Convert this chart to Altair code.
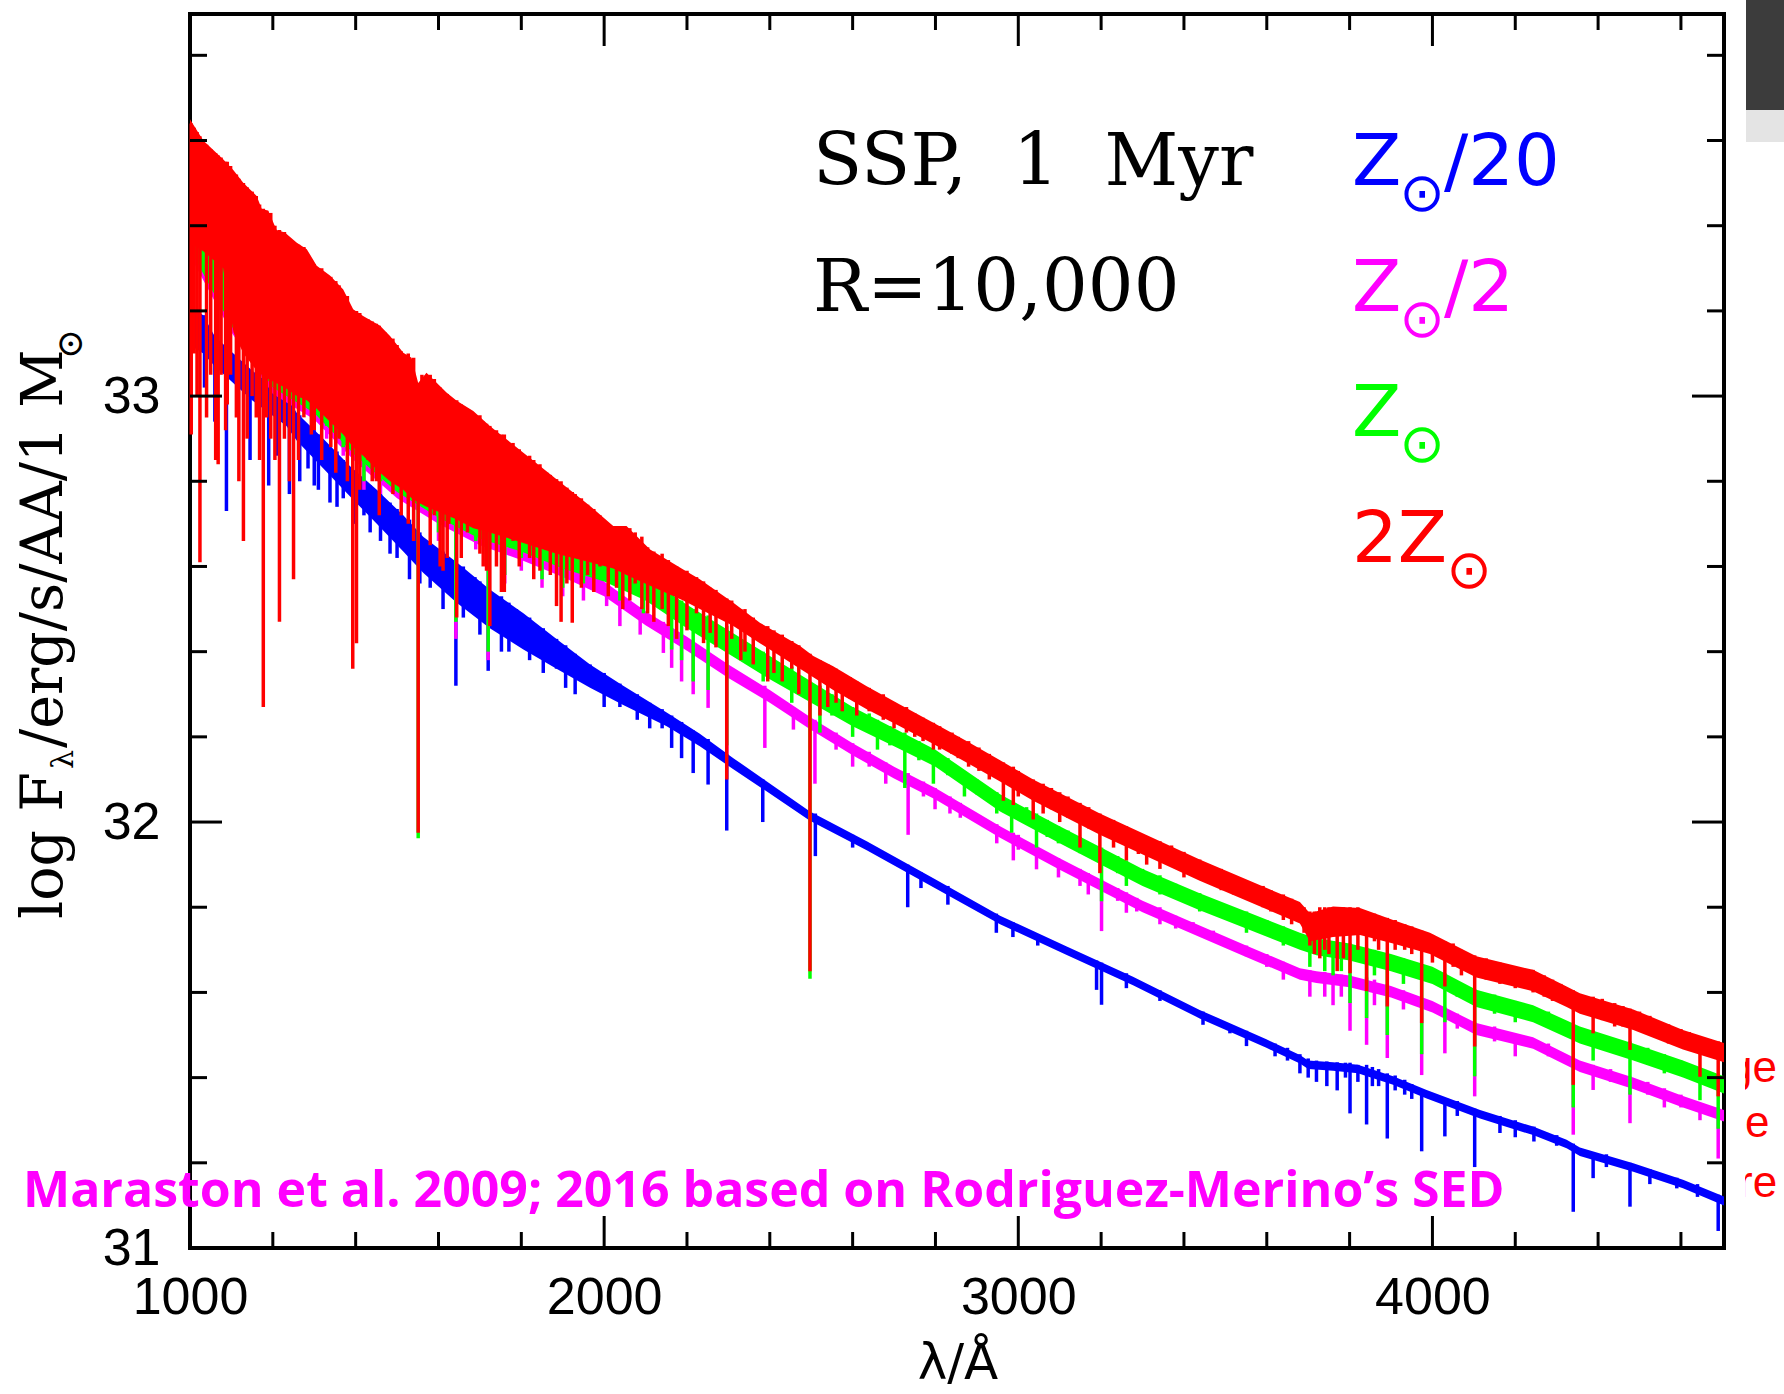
import altair as alt
import pandas as pd

# ---------------- spectra: band envelopes (wavelength, upper, lower) ----------------
red_w = [1000, 1032, 1080, 1105, 1129, 1161, 1173, 1189, 1209, 1229, 1258, 1282, 1306, 1338, 1370,
         1394, 1418, 1459, 1483, 1515, 1535, 1551, 1571, 1620, 1644, 1684, 1724, 1805, 1885, 1966,
         2022, 2054, 2111, 2191, 2231, 2312, 2376, 2473, 2505, 2553, 2634, 2714, 2795, 2875, 2956,
         3036, 3197, 3438, 3680, 3704, 3760, 3825, 3905, 3994, 4106, 4243, 4324, 4356, 4485, 4605, 4704]
red_top = [33.65, 33.60, 33.556, 33.53, 33.50, 33.47, 33.44, 33.435, 33.39, 33.384, 33.36, 33.345, 33.306, 33.283, 33.25,
           33.204, 33.188, 33.165, 33.141, 33.102, 33.09, 33.031, 33.055, 33.008, 32.989, 32.965, 32.93, 32.867, 32.805, 32.742,
           32.695, 32.695, 32.64, 32.593, 32.57, 32.515, 32.468, 32.413, 32.39, 32.366, 32.319, 32.276, 32.233, 32.19, 32.145,
           32.10, 32.02, 31.912, 31.812, 31.786, 31.802, 31.798, 31.77, 31.74, 31.685, 31.653, 31.614, 31.598, 31.56, 31.512, 31.481]
red_bot = [33.36, 33.34, 33.30, 33.15, 33.10, 33.06, 33.05, 33.04, 33.03, 33.02, 33.00, 32.99, 32.97, 32.94, 32.91,
           32.88, 32.86, 32.82, 32.80, 32.78, 32.76, 32.75, 32.74, 32.72, 32.71, 32.69, 32.68, 32.655, 32.63, 32.61,
           32.595, 32.58, 32.555, 32.52, 32.50, 32.46, 32.42, 32.36, 32.34, 32.31, 32.265, 32.225, 32.183, 32.14, 32.095,
           32.05, 31.97, 31.862, 31.762, 31.72, 31.73, 31.735, 31.715, 31.69, 31.635, 31.603, 31.566, 31.55, 31.512, 31.466, 31.436]

green_w = [1000, 1100, 1200, 1300, 1400, 1500, 1600, 1700, 1800, 1900, 2000, 2100, 2200, 2300, 2400, 2500, 2600, 2700,
           2800, 2956, 3100, 3200, 3300, 3438, 3550, 3680, 3720, 3800, 3900, 4000, 4106, 4243, 4356, 4485, 4605, 4704]
green_top = [33.55, 33.45, 33.32, 33.22, 33.12, 33.04, 32.94, 32.86, 32.79, 32.72, 32.64, 32.575, 32.51, 32.45, 32.39, 32.33, 32.27, 32.22,
             32.17, 32.065, 31.99, 31.94, 31.89, 31.833, 31.79, 31.74, 31.727, 31.715, 31.69, 31.66, 31.606, 31.57, 31.52, 31.48, 31.44, 31.403]
green_bot = [33.345, 33.165, 33.02, 32.96, 32.86, 32.775, 32.715, 32.665, 32.635, 32.595, 32.565, 32.52, 32.455, 32.395, 32.335, 32.28, 32.225, 32.178,
             32.13, 32.025, 31.95, 31.90, 31.85, 31.793, 31.75, 31.70, 31.687, 31.675, 31.65, 31.62, 31.566, 31.53, 31.48, 31.44, 31.40, 31.363]

magenta_w = green_w
magenta_top = [33.49, 33.38, 33.25, 33.15, 33.05, 32.97, 32.87, 32.79, 32.715, 32.64, 32.565, 32.495, 32.435, 32.37, 32.31, 32.245, 32.185, 32.13,
               32.08, 31.99, 31.915, 31.865, 31.815, 31.757, 31.71, 31.657, 31.65, 31.64, 31.615, 31.58, 31.528, 31.495, 31.44, 31.40, 31.357, 31.324]
magenta_bot = [33.33, 33.15, 33.005, 32.945, 32.845, 32.76, 32.70, 32.65, 32.615, 32.575, 32.53, 32.462, 32.402, 32.338, 32.28, 32.216, 32.157, 32.102,
               32.053, 31.963, 31.888, 31.838, 31.788, 31.73, 31.683, 31.63, 31.622, 31.612, 31.588, 31.553, 31.50, 31.468, 31.413, 31.373, 31.33, 31.297]

blue_w = [1000, 1032, 1060, 1105, 1150, 1233, 1258, 1322, 1386, 1451, 1515, 1563, 1644, 1724, 1805, 1885, 1966, 2046,
          2151, 2231, 2312, 2392, 2497, 2634, 2795, 2956, 3117, 3277, 3438, 3599, 3680, 3700, 3760, 3820, 3905, 3986,
          4115, 4243, 4324, 4356, 4485, 4605, 4704]
blue_top = [33.21, 33.19, 33.14, 33.10, 33.06, 33.00, 32.96, 32.90, 32.836, 32.78, 32.72, 32.67, 32.61, 32.546, 32.49, 32.43, 32.37, 32.32,
            32.257, 32.207, 32.15, 32.096, 32.025, 31.955, 31.868, 31.78, 31.708, 31.637, 31.559, 31.49, 31.453, 31.44, 31.436, 31.43, 31.403, 31.371,
            31.324, 31.285, 31.254, 31.236, 31.199, 31.16, 31.121]
blue_bot = [33.12, 33.10, 33.07, 33.03, 32.99, 32.93, 32.895, 32.83, 32.765, 32.70, 32.635, 32.585, 32.515, 32.455, 32.405, 32.36, 32.315, 32.275,
            32.225, 32.178, 32.124, 32.072, 32.003, 31.934, 31.847, 31.76, 31.688, 31.617, 31.539, 31.47, 31.433, 31.42, 31.416, 31.41, 31.383, 31.351,
            31.304, 31.265, 31.234, 31.216, 31.179, 31.14, 31.10]

# ---------------- absorption lines (wavelength, upper, lower) ----------------
red_line_w = [1003, 1010, 1017, 1024, 1040, 1050, 1062, 1068, 1075, 1086, 1090, 1098, 1112, 1118, 1129, 1138, 1150, 1160,
              1168, 1177, 1185, 1195, 1205, 1216, 1228, 1240, 1250, 1262, 1275, 1293, 1300, 1318, 1335, 1340, 1352, 1360,
              1380, 1393, 1402, 1410, 1430, 1440, 1450, 1457, 1470, 1490, 1500, 1510, 1527, 1540, 1551, 1560, 1580, 1590,
              1604, 1611, 1621, 1625, 1644, 1655, 1670, 1700, 1708, 1716, 1724, 1740, 1752, 1759, 1780, 1795, 1820, 1830,
              1845, 1862, 1870, 1885, 1896, 1910, 1923, 1930, 1945, 1960, 1975, 1990, 2010, 2030, 2045, 2062,
              2075, 2091, 2105, 2120, 2140, 2155, 2175, 2200, 2223, 2240, 2256, 2270, 2296, 2308, 2330, 2340, 2360, 2395,
              2410, 2430, 2453, 2470, 2497, 2521, 2540, 2560, 2575, 2594, 2610, 2640, 2674, 2700, 2730, 2750, 2770, 2795,
              2810, 2840, 2855, 2880, 2905, 2930, 2964, 2988, 3000, 3036, 3060, 3080, 3100, 3120, 3149, 3170, 3197, 3230,
              3261, 3290, 3310, 3342, 3370, 3400, 3438, 3460, 3490, 3520, 3551, 3591, 3610, 3640, 3660, 3690, 3704, 3715,
              3728, 3740, 3750, 3770, 3785, 3801, 3820, 3841, 3860, 3870, 3891, 3910, 3933, 3950, 3974, 4000, 4030, 4050,
              4070, 4102, 4130, 4163, 4180, 4200, 4243, 4270, 4290, 4310, 4340, 4388, 4410, 4440, 4460, 4477, 4500, 4525,
              4570, 4600, 4620, 4646, 4670, 4690]
red_line_top = [33.64, 33.63, 33.62, 33.61, 33.59, 33.58, 33.57, 33.565, 33.56, 33.55, 33.55, 33.54, 33.52, 33.51, 33.50, 33.49, 33.48, 33.47,
                33.45, 33.44, 33.435, 33.43, 33.40, 33.39, 33.385, 33.37, 33.36, 33.355, 33.35, 33.32, 33.31, 33.30, 33.28, 33.28, 33.27, 33.26,
                33.235, 33.20, 33.20, 33.195, 33.18, 33.175, 33.17, 33.165, 33.15, 33.135, 33.12, 33.105, 33.10, 33.09, 33.03, 33.05, 33.05, 33.04,
                33.02, 33.01, 33.005, 33.00, 32.99, 32.98, 32.97, 32.955, 32.94, 32.935, 32.93, 32.92, 32.91, 32.91, 32.89, 32.875, 32.86, 32.85,
                32.84, 32.82, 32.815, 32.805, 32.80, 32.785, 32.775, 32.77, 32.76, 32.745, 32.735, 32.72, 32.70, 32.69, 32.695, 32.69,
                32.68, 32.67, 32.645, 32.635, 32.63, 32.615, 32.60, 32.59, 32.575, 32.565, 32.55, 32.545, 32.525, 32.52, 32.50, 32.50, 32.48, 32.46,
                32.45, 32.44, 32.425, 32.415, 32.395, 32.38, 32.37, 32.36, 32.35, 32.34, 32.33, 32.315, 32.30, 32.28, 32.27, 32.255, 32.245, 32.233,
                32.225, 32.21, 32.20, 32.19, 32.175, 32.16, 32.14, 32.13, 32.12, 32.10, 32.09, 32.08, 32.07, 32.06, 32.045, 32.035, 32.02, 32.005,
                31.99, 31.975, 31.965, 31.955, 31.945, 31.93, 31.912, 31.90, 31.89, 31.875, 31.86, 31.85, 31.84, 31.83, 31.82, 31.80, 31.79, 31.79,
                31.80, 31.80, 31.80, 31.80, 31.80, 31.80, 31.80, 31.79, 31.785, 31.78, 31.775, 31.77, 31.76, 31.755, 31.745, 31.735, 31.72, 31.715,
                31.70, 31.687, 31.68, 31.67, 31.665, 31.66, 31.653, 31.64, 31.63, 31.62, 31.605, 31.59, 31.585, 31.575, 31.568, 31.562, 31.555, 31.545,
                31.525, 31.514, 31.507, 31.497, 31.49, 31.485]
red_line_bot = [32.91, 33.10, 33.00, 32.61, 32.95, 33.05, 32.85, 32.84, 33.05, 32.92, 32.98, 33.05, 32.95, 32.80, 32.66, 32.90, 33.00, 32.95,
                32.85, 32.27, 32.95, 32.90, 32.85, 32.47, 32.90, 32.80, 32.57, 32.85, 32.95, 32.91, 32.92, 32.85, 32.98, 32.88, 32.82, 32.90,
                32.80, 32.36, 32.42, 32.78, 32.85, 32.80, 32.80, 32.72, 32.88, 32.77, 32.80, 32.72, 32.70, 32.66, 31.975, 32.80, 32.65, 32.72,
                32.60, 32.59, 32.62, 32.70, 32.48, 32.62, 32.68, 32.63, 32.60, 32.59, 32.46, 32.60, 32.54, 32.54, 32.66, 32.60, 32.62, 32.57,
                32.59, 32.64, 32.58, 32.507, 32.47, 32.56, 32.468, 32.62, 32.55, 32.58, 32.54, 32.60, 32.53, 32.55, 32.50, 32.52,
                32.56, 32.50, 32.49, 32.47, 32.50, 32.46, 32.43, 32.45, 32.49, 32.42, 32.444, 32.41, 32.10, 32.43, 32.38, 32.40, 32.37, 32.33,
                32.35, 32.33, 32.36, 32.30, 31.65, 32.25, 32.27, 32.28, 32.26, 32.29, 32.25, 32.26, 32.24, 32.22, 32.21, 32.20, 32.19, 32.17,
                32.17, 32.16, 32.15, 32.13, 32.12, 32.10, 32.05, 32.04, 32.06, 32.006, 32.02, 32.03, 32.00, 32.01, 31.94, 31.985, 31.88, 31.94,
                31.91, 31.925, 31.90, 31.89, 31.90, 31.87, 31.865, 31.855, 31.84, 31.83, 31.83, 31.80, 31.79, 31.77, 31.76, 31.74, 31.71, 31.69,
                31.68, 31.70, 31.69, 31.65, 31.68, 31.645, 31.70, 31.603, 31.72, 31.70, 31.567, 31.70, 31.70, 31.69, 31.528, 31.67, 31.614, 31.66,
                31.64, 31.473, 31.63, 31.62, 31.62, 31.61, 31.60, 31.59, 31.58, 31.575, 31.383, 31.504, 31.535, 31.52, 31.52, 31.465, 31.51, 31.50,
                31.48, 31.47, 31.465, 31.402, 31.45, 31.356]

green_line_w = [1050, 1100, 1225, 1270, 1330, 1370, 1420, 1460, 1551, 1600, 1642, 1690, 1720, 1760, 1800, 1850, 1900, 1950,
                2006, 2038, 2095, 2163, 2187, 2215, 2251, 2296, 2384, 2453, 2497, 2521, 2550, 2600, 2640, 2660, 2690, 2726,
                2760, 2795, 2830, 2870, 2900, 2948, 2984, 3020, 3044, 3070, 3097, 3120, 3149, 3201, 3240, 3261, 3300, 3342,
                3380, 3438, 3490, 3551, 3600, 3640, 3704, 3740, 3760, 3780, 3801, 3841, 3860, 3891, 3930, 3974, 4030, 4060,
                4102, 4150, 4200, 4280, 4340, 4388, 4430, 4477, 4520, 4560, 4600, 4646, 4690]
green_line_top = [33.50, 33.44, 33.30, 33.25, 33.18, 33.14, 33.10, 33.07, 33.00, 32.94, 32.90, 32.87, 32.85, 32.82, 32.79, 32.75, 32.72, 32.68,
                  32.63, 32.61, 32.575, 32.53, 32.52, 32.50, 32.485, 32.46, 32.40, 32.365, 32.33, 32.32, 32.30, 32.27, 32.255, 32.24, 32.225, 32.21,
                  32.19, 32.17, 32.15, 32.12, 32.10, 32.07, 32.05, 32.035, 32.02, 32.005, 31.99, 31.98, 31.965, 31.94, 31.92, 31.91, 31.89, 31.875,
                  31.855, 31.833, 31.81, 31.79, 31.77, 31.755, 31.73, 31.72, 31.72, 31.715, 31.715, 31.705, 31.70, 31.69, 31.68, 31.665, 31.645, 31.625,
                  31.607, 31.595, 31.58, 31.555, 31.525, 31.51, 31.495, 31.485, 31.47, 31.455, 31.44, 31.42, 31.408]
green_line_bot = [33.30, 33.24, 33.10, 33.00, 32.93, 32.88, 32.80, 32.80, 31.962, 32.68, 32.47, 32.66, 32.40, 32.58, 32.62, 32.57, 32.55, 32.56,
                  32.577, 32.52, 32.49, 32.405, 32.38, 32.33, 32.31, 32.18, 32.33, 32.28, 31.632, 32.21, 32.25, 32.20, 32.21, 32.17, 32.18, 32.08,
                  32.145, 32.09, 32.11, 32.06, 32.065, 32.02, 31.975, 31.995, 31.94, 31.965, 31.95, 31.945, 31.927, 31.814, 31.88, 31.85, 31.855, 31.83,
                  31.82, 31.79, 31.775, 31.74, 31.735, 31.71, 31.66, 31.65, 31.64, 31.65, 31.575, 31.54, 31.64, 31.50, 31.62, 31.455, 31.53, 31.59,
                  31.403, 31.55, 31.53, 31.52, 31.33, 31.44, 31.46, 31.36, 31.43, 31.41, 31.41, 31.347, 31.28]

magenta_line_w = [1050, 1100, 1225, 1270, 1330, 1370, 1420, 1460, 1600, 1642, 1690, 1720, 1760, 1800, 1850, 1900, 1950,
                  2006, 2038, 2087, 2143, 2163, 2187, 2215, 2251, 2296, 2388, 2457, 2509, 2560, 2600, 2640, 2680, 2734, 2771,
                  2799, 2835, 2860, 2948, 2988, 3000, 3044, 3097, 3149, 3169, 3201, 3240, 3261, 3286, 3342, 3380, 3422, 3471,
                  3551, 3600, 3640, 3704, 3740, 3760, 3780, 3801, 3841, 3860, 3891, 3930, 3974, 4030, 4060, 4102, 4150, 4200,
                  4280, 4340, 4388, 4430, 4477, 4520, 4560, 4600, 4646, 4690]
magenta_line_top = [33.44, 33.38, 33.23, 33.19, 33.12, 33.09, 33.04, 33.00, 32.87, 32.84, 32.80, 32.78, 32.76, 32.71, 32.68, 32.64, 32.60,
                    32.56, 32.54, 32.505, 32.47, 32.455, 32.44, 32.425, 32.40, 32.38, 32.32, 32.27, 32.24, 32.21, 32.185, 32.165, 32.14, 32.115, 32.095,
                    32.08, 32.06, 32.045, 31.995, 31.975, 31.97, 31.94, 31.915, 31.89, 31.88, 31.865, 31.845, 31.835, 31.822, 31.80, 31.78, 31.765, 31.745,
                    31.71, 31.69, 31.672, 31.652, 31.648, 31.645, 31.642, 31.64, 31.635, 31.63, 31.62, 31.605, 31.585, 31.565, 31.55, 31.53, 31.52, 31.50,
                    31.48, 31.445, 31.43, 31.42, 31.403, 31.39, 31.375, 31.36, 31.34, 31.33]
magenta_line_bot = [33.27, 33.21, 33.06, 32.99, 32.90, 32.86, 32.78, 32.77, 32.66, 32.43, 32.64, 32.38, 32.56, 32.59, 32.55, 32.53, 32.52,
                    32.507, 32.46, 32.44, 32.397, 32.362, 32.33, 32.30, 32.268, 32.16, 32.174, 32.217, 32.09, 32.17, 32.13, 32.13, 32.09, 31.97, 32.06,
                    32.03, 32.02, 32.01, 31.95, 31.91, 31.935, 31.889, 31.87, 31.85, 31.83, 31.744, 31.815, 31.787, 31.79, 31.76, 31.75, 31.74, 31.73,
                    31.685, 31.66, 31.63, 31.59, 31.59, 31.57, 31.59, 31.51, 31.477, 31.57, 31.446, 31.56, 31.406, 31.457, 31.515, 31.356, 31.485, 31.45,
                    31.45, 31.266, 31.371, 31.39, 31.293, 31.36, 31.33, 31.33, 31.30, 31.21]

blue_line_w = [1035, 1060, 1088, 1145, 1190, 1210, 1240, 1265, 1285, 1300, 1310, 1338, 1355, 1370, 1400, 1420, 1435, 1460,
               1483, 1500, 1530, 1555, 1580, 1611, 1642, 1660, 1688, 1700, 1720, 1752, 1770, 1788, 1820, 1853, 1885, 1907,
               1930, 1966, 2000, 2038, 2080, 2110, 2140, 2163, 2187, 2215, 2251, 2296, 2383, 2510, 2600, 2733, 2765, 2830,
               2947, 2987, 3047, 3189, 3201, 3261, 3342, 3446, 3511, 3551, 3620, 3650, 3680, 3700, 3720, 3745, 3770, 3790,
               3801, 3820, 3841, 3855, 3870, 3891, 3910, 3933, 3950, 3974, 4030, 4060, 4102, 4163, 4200, 4245, 4300, 4340,
               4388, 4420, 4477, 4525, 4590, 4640, 4690]
blue_line_top = [33.19, 33.14, 33.12, 33.06, 33.02, 33.02, 32.99, 32.955, 32.93, 32.92, 32.91, 32.88, 32.87, 32.85, 32.825, 32.80, 32.79, 32.77,
                 32.75, 32.735, 32.71, 32.68, 32.66, 32.635, 32.61, 32.60, 32.575, 32.565, 32.55, 32.53, 32.515, 32.50, 32.48, 32.455, 32.43, 32.415,
                 32.395, 32.37, 32.35, 32.325, 32.30, 32.28, 32.265, 32.25, 32.235, 32.215, 32.195, 32.16, 32.10, 32.02, 31.97, 31.90, 31.882, 31.85,
                 31.785, 31.765, 31.735, 31.675, 31.67, 31.645, 31.605, 31.555, 31.525, 31.51, 31.48, 31.47, 31.455, 31.445, 31.44, 31.438, 31.436, 31.435,
                 31.435, 31.43, 31.43, 31.425, 31.42, 31.41, 31.405, 31.395, 31.385, 31.37, 31.35, 31.345, 31.327, 31.31, 31.30, 31.285, 31.265, 31.245,
                 31.225, 31.22, 31.20, 31.185, 31.165, 31.15, 31.125]
blue_line_bot = [33.02, 32.94, 32.73, 32.85, 32.79, 32.86, 32.77, 32.80, 32.83, 32.79, 32.78, 32.75, 32.74, 32.76, 32.70, 32.72, 32.68, 32.66,
                 32.63, 32.62, 32.57, 32.56, 32.55, 32.50, 32.32, 32.48, 32.49, 32.44, 32.355, 32.40, 32.40, 32.44, 32.38, 32.35, 32.36, 32.315,
                 32.30, 32.33, 32.27, 32.27, 32.24, 32.22, 32.22, 32.174, 32.15, 32.115, 32.088, 31.98, 32.00, 31.92, 31.94, 31.80, 31.845, 31.806,
                 31.74, 31.73, 31.71, 31.606, 31.571, 31.61, 31.58, 31.524, 31.504, 31.474, 31.45, 31.44, 31.41, 31.40, 31.39, 31.38, 31.37, 31.40,
                 31.316, 31.39, 31.29, 31.38, 31.38, 31.257, 31.37, 31.36, 31.35, 31.227, 31.262, 31.31, 31.19, 31.27, 31.26, 31.25, 31.24, 31.085,
                 31.164, 31.19, 31.097, 31.15, 31.14, 31.12, 31.04]

# ---------------- axes ----------------
x_labels = [1000, 2000, 3000, 4000]
y_labels = [31, 32, 33]
x_major = [2000, 3000, 4000]
x_minor = [1200, 1400, 1600, 1800, 2200, 2400, 2600, 2800, 3200, 3400, 3600, 3800, 4200, 4400, 4600]
y_major = [32, 33]
y_minor = [31.2, 31.4, 31.6, 31.8, 32.2, 32.4, 32.6, 32.8, 33.2, 33.4, 33.6, 33.8]

W, H = 1534, 1234
BLUE, MAGENTA, GREEN, RED = "#0000ff", "#ff00ff", "#00ff00", "#ff0000"

xs = alt.Scale(domain=[1000, 4704], nice=False, zero=False)
ys = alt.Scale(domain=[31, 33.897], nice=False, zero=False)
xaxis = alt.Axis(values=x_labels, title=None, ticks=False, domain=False, grid=False, format="d",
                 labelFont="Liberation Sans", labelFontSize=52, labelColor="black", labelPadding=24,
                 labelFlush=False, labelOverlap=False)
yaxis = alt.Axis(values=y_labels, title=None, ticks=False, domain=False, grid=False, format="d",
                 labelFont="Liberation Sans", labelFontSize=52, labelColor="black", labelPadding=30,
                 labelFlush=False, labelOverlap=False)


def band(w, top, bot, color):
    df = pd.DataFrame({"w": w, "top": top, "bot": bot})
    return alt.Chart(df).mark_area(color=color, opacity=1, interpolate="linear").encode(
        x=alt.X("w:Q", scale=xs, axis=xaxis),
        y=alt.Y("top:Q", scale=ys, axis=yaxis),
        y2="bot:Q")


def lines(w, top, bot, color):
    df = pd.DataFrame({"w": w, "top": top, "bot": bot})
    return alt.Chart(df).mark_rule(color=color, strokeWidth=3.5).encode(
        x=alt.X("w:Q", scale=xs, axis=xaxis),
        y=alt.Y("top:Q", scale=ys, axis=yaxis),
        y2="bot:Q")


def xticks(vals, length):
    df = pd.DataFrame({"v": vals})
    bottom = alt.Chart(df).mark_rule(color="black", strokeWidth=3).encode(
        x=alt.X("v:Q", scale=xs, axis=xaxis), y=alt.value(H), y2=alt.value(H - length))
    top = alt.Chart(df).mark_rule(color="black", strokeWidth=3).encode(
        x=alt.X("v:Q", scale=xs, axis=xaxis), y=alt.value(0), y2=alt.value(length))
    return [bottom, top]


def yticks(vals, length):
    df = pd.DataFrame({"v": vals})
    left = alt.Chart(df).mark_rule(color="black", strokeWidth=3).encode(
        y=alt.Y("v:Q", scale=ys, axis=yaxis), x=alt.value(0), x2=alt.value(length))
    right = alt.Chart(df).mark_rule(color="black", strokeWidth=3).encode(
        y=alt.Y("v:Q", scale=ys, axis=yaxis), x=alt.value(W), x2=alt.value(W - length))
    return [left, right]


one = pd.DataFrame({"k": [0]})


def label(txt, x, y, size, color="black", font="DejaVu Serif", angle=0, align="left",
          baseline="alphabetic", weight="normal"):
    return alt.Chart(one).mark_text(text=txt, fontSize=size, color=color, font=font, angle=angle,
                                    align=align, baseline=baseline, fontWeight=weight).encode(
        x=alt.value(x), y=alt.value(y))


def box(x1, x2, y1, y2, color):
    return alt.Chart(one).mark_rect(color=color).encode(
        x=alt.value(x1), x2=alt.value(x2), y=alt.value(y1), y2=alt.value(y2))


NB = "\u00a0"
SUN = "\u2299"
layers = [
    band(blue_w, blue_top, blue_bot, BLUE),
    lines(blue_line_w, blue_line_top, blue_line_bot, BLUE),
    band(magenta_w, magenta_top, magenta_bot, MAGENTA),
    lines(magenta_line_w, magenta_line_top, magenta_line_bot, MAGENTA),
    band(green_w, green_top, green_bot, GREEN),
    lines(green_line_w, green_line_top, green_line_bot, GREEN),
    band(red_w, red_top, red_bot, RED),
    lines(red_line_w, red_line_top, red_line_bot, RED),
]
layers += xticks(x_major, 32) + xticks(x_minor, 16) + yticks(y_major, 32) + yticks(y_minor, 17)

layers += [
    # annotation in the plot
    label("SSP," + NB + NB + "1" + NB + NB + "Myr", 623, 171, 72),
    label("R=10,000", 623, 297, 72),
    # legend-like labels
    label("Z", 1162, 171, 72, BLUE, "DejaVu Sans"),
    label(SUN, 1232, 181, 54, BLUE, "DejaVu Sans", align="center", baseline="middle"),
    label("/20", 1254, 171, 72, BLUE, "DejaVu Sans"),
    label("Z", 1162, 297, 72, MAGENTA, "DejaVu Sans"),
    label(SUN, 1232, 307, 54, MAGENTA, "DejaVu Sans", align="center", baseline="middle"),
    label("/2", 1254, 297, 72, MAGENTA, "DejaVu Sans"),
    label("Z", 1162, 422, 72, GREEN, "DejaVu Sans"),
    label(SUN, 1232, 432, 54, GREEN, "DejaVu Sans", align="center", baseline="middle"),
    label("2Z", 1162, 548, 72, RED, "DejaVu Sans"),
    label(SUN, 1279, 558, 54, RED, "DejaVu Sans", align="center", baseline="middle"),
    # credit line
    label("Maraston et al. 2009; 2016 based on Rodriguez-Merino\u2019s SED", -167, 1193, 50,
          MAGENTA, "Open Sans", weight="bold"),
    # axis titles
    label("\u03bb/\u00c5", 768, 1365, 50, "black", "DejaVu Sans", align="center"),
    label("log F", -128, 905, 57, angle=270),
    label("\u03bb", -117, 755, 30, angle=270),
    label("/erg/s/AA/1 M", -128, 734, 57, angle=270),
    label(SUN, -119, 330, 36, angle=270, align="center", baseline="middle"),
    # slide residue at the right edge
    box(1556, 1600, -14, 96, "#3c3c3c"),
    box(1556, 1600, 96, 128, "#e4e4e4"),
    label("ge", 1538, 1068, 44, RED, "Liberation Sans"),
    label("e", 1555, 1123, 44, RED, "Liberation Sans"),
    label("re", 1548, 1183, 44, RED, "Liberation Sans"),
    box(1537, 1555, 1020, 1200, "white"),
]

chart = alt.layer(*layers).properties(
    width=W, height=H,
    autosize=alt.AutoSizeParams(type="none"),
    padding={"left": 190, "top": 14, "right": 60, "bottom": 146},
    background="white",
).configure_view(stroke="black", strokeWidth=4)

chart.save("out.html", embed_options={"renderer": "svg", "actions": False})
